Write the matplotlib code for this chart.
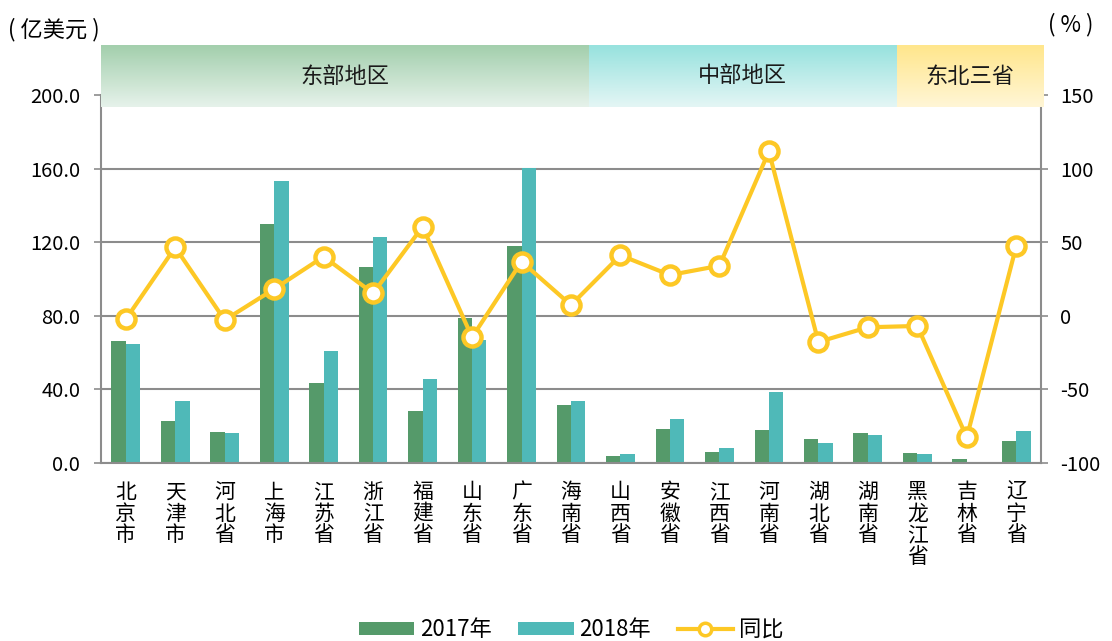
import numpy as np
import matplotlib
matplotlib.use('Agg')
import matplotlib.pyplot as plt
from matplotlib.colors import to_rgb

plt.rcParams['font.family'] = ['Noto Sans CJK SC', 'DejaVu Sans']
plt.rcParams['axes.unicode_minus'] = False

# data
provinces = ['北京市', '天津市', '河北省', '上海市', '江苏省', '浙江省', '福建省', '山东省', '广东省', '海南省',
             '山西省', '安徽省', '江西省', '河南省', '湖北省', '湖南省',
             '黑龙江省', '吉林省', '辽宁省']
v2017 = [66.5, 22.8, 16.7, 129.9, 43.3, 106.7, 28.1, 78.6, 117.8, 31.5,
         3.6, 18.7, 6.0, 18.1, 13.0, 16.3, 5.3, 2.2, 11.8]
v2018 = [64.7, 33.7, 16.1, 153.4, 60.9, 122.8, 45.5, 66.8, 160.5, 33.7,
         5.0, 23.7, 8.0, 38.4, 10.9, 15.0, 4.9, 0.4, 17.2]
growth = [-2.4, 46.5, -2.9, 18.2, 40.2, 15.3, 60.5, -14.6, 36.8, 7.3,
          41.1, 27.7, 34.0, 111.7, -17.8, -7.8, -6.9, -82.6, 47.4]
regions = ['东部地区', '中部地区', '东北三省']

# band layout (x in category units) and colours
band_edges = [-0.5, 9.36, 15.58, 18.55]
band_top = ['#a3cfad', '#97e2de', '#ffe68c']
band_bottom = ['#e6f2ea', '#e4f6f5', '#fff6d6']

GREEN = '#559a6a'
TEAL = '#4fb9b8'
YELLOW = '#fdc825'
GRID = '#8c8c8c'

fig = plt.figure(figsize=(11.12, 6.41), dpi=100)
W, H = 1112, 641
left, right, bottom, top = 101, 1041, 463, 95
ax = fig.add_axes([left / W, 1 - bottom / H, (right - left) / W, (bottom - top) / H])

x = np.arange(len(provinces))
bw = 0.29
ax.bar(x - bw / 2, v2017, bw, color=GREEN, label='2017年', zorder=2)
ax.bar(x + bw / 2, v2018, bw, color=TEAL, label='2018年', zorder=2)

ax.set_xlim(-0.5, len(provinces) - 0.5)
ax.set_ylim(0, 200)
ax.set_yticks(np.arange(0, 201, 40))
ax.set_yticklabels([f'{t:.1f}' for t in np.arange(0, 201, 40)], fontsize=14.5)
ax.yaxis.grid(True, color=GRID, linewidth=1.5, zorder=0)
ax.set_axisbelow(True)
ax.set_xticks(x)
ax.set_xticklabels(['\n'.join(p) for p in provinces], fontsize=15, linespacing=0.98, va='top')
ax.tick_params(axis='x', length=0, pad=13)
ax.tick_params(axis='y', length=5, width=1.2, color=GRID, pad=10)
for s in ['top', 'right']:
    ax.spines[s].set_visible(False)
for s in ['left', 'bottom']:
    ax.spines[s].set_color(GRID)
    ax.spines[s].set_linewidth(1.5)

ax2 = ax.twinx()
ax2.plot(x, growth, color=YELLOW, linewidth=3, marker='o', markersize=13,
         markerfacecolor='white', markeredgecolor=YELLOW, markeredgewidth=3.2,
         label='同比', zorder=3)
ax2.set_ylim(-100, 150)
ax2.set_yticks(np.arange(-100, 151, 50))
ax2.tick_params(axis='y', length=5, width=1.2, color=GRID, pad=9, labelsize=14.5)
for s in ['top', 'left', 'bottom']:
    ax2.spines[s].set_visible(False)
ax2.spines['right'].set_color(GRID)
ax2.spines['right'].set_linewidth(1.5)

# region header bands
band_ax = fig.add_axes([left / W, 1 - 107 / H, (right - left) / W, 62 / H], zorder=5)
band_ax.set_xlim(-0.5, len(provinces) - 0.5)
band_ax.set_ylim(0, 1)
band_ax.axis('off')
for i, name in enumerate(regions):
    t = np.linspace(0, 1, 64)[:, None, None]
    c0 = np.array(to_rgb(band_top[i]))
    c1 = np.array(to_rgb(band_bottom[i]))
    grad = c0 * (1 - t) + c1 * t
    band_ax.imshow(grad, extent=(band_edges[i], band_edges[i + 1], 0, 1),
                   aspect='auto', origin='upper', clip_on=False)
    band_ax.text((band_edges[i] + band_edges[i + 1]) / 2, 0.5, name,
                 ha='center', va='center', fontsize=16, color='#1a1a1a')
band_ax.set_xlim(-0.5, len(provinces) - 0.5)

fig.text(8 / W, 1 - 30 / H, '( 亿美元 )', fontsize=16, va='center', ha='left')
fig.text(1093 / W, 1 - 25 / H, '( % )', fontsize=16, va='center', ha='right')

h1, l1 = ax.get_legend_handles_labels()
h2, l2 = ax2.get_legend_handles_labels()
leg = fig.legend(h1 + h2, l1 + l2, loc='center', bbox_to_anchor=(571 / W, 1 - 630 / H),
                 ncol=3, frameon=False, fontsize=16, handlelength=2.5, handleheight=0.55,
                 columnspacing=1.2, handletextpad=0.25)
leg.legend_handles[2].set_markersize(9)
leg.legend_handles[2].set_markeredgewidth(2.5)

fig.savefig('out.png', dpi=100)
